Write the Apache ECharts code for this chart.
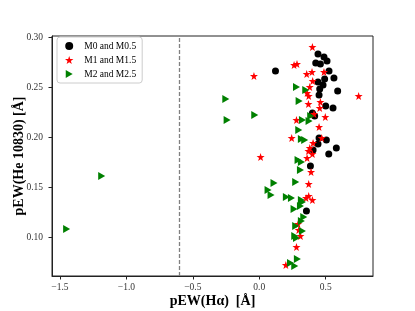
<!DOCTYPE html>
<html>
<head>
<meta charset="utf-8">
<script src="https://cdn.jsdelivr.net/npm/echarts@6/dist/echarts.min.js"></script>
<style>html,body{margin:0;padding:0;background:#fff}#c{width:415px;height:311px}</style>
</head>
<body>
<div id="c"></div>
<script>
// Data
const m0X = [0.122,0.442,0.487,0.425,0.46,0.51,0.525,0.562,0.492,0.442,0.48,0.455,0.59,0.45,0.50,0.555,0.40,0.417,0.45,0.505,0.442,0.405,0.58,0.523,0.385,0.355];
const m0Y = [0.266,0.283,0.280,0.274,0.273,0.276,0.266,0.259,0.258,0.255,0.252,0.248,0.246,0.242,0.231,0.229,0.224,0.221,0.199,0.197,0.193,0.187,0.189,0.183,0.171,0.126];
const m1X = [0.40,0.262,0.284,-0.04,0.357,0.397,0.487,0.402,0.38,0.36,0.372,0.748,0.37,0.46,0.455,0.412,0.497,0.28,0.45,0.244,0.47,0.405,0.38,0.40,0.37,0.01,0.36,0.39,0.372,0.372,0.352,0.40,0.292,0.297,0.31,0.28,0.20];
const m1Y = [0.29,0.272,0.273,0.261,0.263,0.265,0.265,0.256,0.25,0.244,0.241,0.241,0.233,0.235,0.229,0.223,0.22,0.217,0.21,0.199,0.199,0.194,0.189,0.183,0.186,0.18,0.179,0.165,0.153,0.141,0.139,0.137,0.113,0.107,0.101,0.09,0.072];
const m2X = [-0.252,-0.034,-0.242,-1.186,-1.45,0.28,0.35,0.30,0.325,0.375,0.387,0.297,0.317,0.342,0.292,0.317,0.31,0.111,0.274,0.066,0.089,0.204,0.242,0.317,0.325,0.31,0.262,0.335,0.317,0.274,0.325,0.267,0.28,0.287,0.235,0.267];
const m2Y = [0.238,0.222,0.217,0.161,0.108,0.25,0.247,0.236,0.217,0.216,0.221,0.207,0.198,0.197,0.177,0.175,0.167,0.154,0.155,0.147,0.142,0.140,0.139,0.137,0.135,0.131,0.128,0.12,0.116,0.111,0.106,0.101,0.099,0.078,0.074,0.071];
const seriesNames = ['M0 and M0.5','M1 and M1.5','M2 and M2.5'];
const xTicks = [-1.5,-1.0,-0.5,0.0,0.5];
const yTicks = [0.10,0.15,0.20,0.25,0.30];
const vLineX = -0.6;

const zip = (a,b) => a.map((v,i)=>[v,b[i]]);
const starPath = 'path://M50,0 L61.8,35.1 L97.6,34.5 L68.8,56.9 L79.4,90.5 L50,70 L20.6,90.5 L31.2,56.9 L2.4,34.5 L38.2,35.1 Z';
const triPath = 'path://M0,0 L87,50 L0,100 Z';
const serif = '"Liberation Serif","DejaVu Serif",serif';

const chart = echarts.init(document.getElementById('c'), null, {renderer:'canvas'});
chart.setOption({
  animation:false,
  backgroundColor:'#fff',
  grid:{left:52,right:42,top:36,bottom:35,outerBoundsMode:'none',containLabel:false,show:true,borderColor:'#222',borderWidth:1,backgroundColor:'transparent'},
  legend:{
    left:57, top:37, orient:'vertical', itemGap:4, itemWidth:10, itemHeight:8,
    padding:[4,6,4,8], borderColor:'#ccc', borderWidth:1, borderRadius:3,
    backgroundColor:'rgba(255,255,255,0.8)',
    textStyle:{fontFamily:serif,fontSize:9.5,color:'#000',padding:[0,0,0,5]},
    data:[
      {name:seriesNames[0],icon:'circle'},
      {name:seriesNames[1],icon:starPath},
      {name:seriesNames[2],icon:triPath}
    ]
  },
  xAxis:{
    type:'value', min:-1.56, max:0.856,
    name:'pEW(Hα)  [Å]', nameLocation:'middle', nameGap:18, nameMoveOverlap:false,
    nameTextStyle:{fontFamily:serif,fontWeight:'bold',fontSize:14,color:'#000'},
    axisLine:{show:true,onZero:false,lineStyle:{color:'#222',width:1}},
    axisTick:{show:true,inside:false,length:3.5,lineStyle:{color:'#222'},customValues:xTicks},
    axisLabel:{fontFamily:serif,fontSize:9.5,color:'#333',margin:6,customValues:xTicks,
      formatter:v=>(v<0?'\u2212':'')+Math.abs(v).toFixed(1)},
    splitLine:{show:false}
  },
  yAxis:{
    type:'value', min:0.061, max:0.301,
    name:'pEW(He 10830) [Å]', nameLocation:'middle', nameGap:26, nameMoveOverlap:false,
    nameTextStyle:{fontFamily:serif,fontWeight:'bold',fontSize:14,color:'#000'},
    axisLine:{show:true,onZero:false,lineStyle:{color:'#222',width:1}},
    axisTick:{show:true,inside:false,length:3.5,lineStyle:{color:'#222'},customValues:yTicks},
    axisLabel:{fontFamily:serif,fontSize:9.5,color:'#333',margin:9,customValues:yTicks,
      formatter:v=>v.toFixed(2)},
    splitLine:{show:false}
  },
  series:[
    {name:seriesNames[0],type:'scatter',data:zip(m0X,m0Y),symbol:'circle',symbolSize:7,
      itemStyle:{color:'#000',opacity:1},
      markLine:{silent:true,symbol:'none',label:{show:false},
        lineStyle:{color:'#808080',type:[4,2],width:1.3},data:[{xAxis:vLineX}]}},
    {name:seriesNames[1],type:'scatter',data:zip(m1X,m1Y),symbol:starPath,symbolSize:8,
      itemStyle:{color:'#ff0000',opacity:1}},
    {name:seriesNames[2],type:'scatter',data:zip(m2X,m2Y),symbol:triPath,symbolSize:[7,8],
      itemStyle:{color:'#008000',opacity:1}}
  ]
});
</script>
</body>
</html>
